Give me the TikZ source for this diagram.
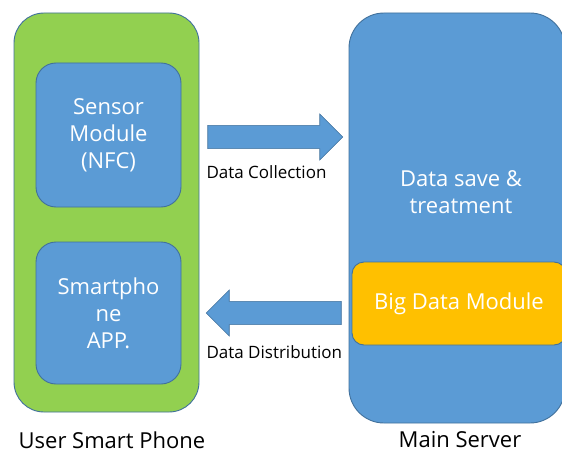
\documentclass[tikz,border=0pt]{standalone}
\usepackage{fontspec}
\setmainfont{Open Sans}
\usetikzlibrary{shapes.arrows}

\definecolor{phonegreen}{HTML}{92D050}
\definecolor{boxblue}{HTML}{5B9BD5}
\definecolor{edgeblue}{HTML}{41719C}
\definecolor{bigorange}{HTML}{FFC000}

\tikzset{
  panel/.style={draw=edgeblue, line width=0.9pt, inner sep=0pt, rounded corners=#1},
  boxtext/.style={text=white, align=center, font=\fontsize{22}{27}\selectfont},
  blockarrow/.style={single arrow, draw=edgeblue, line width=0.6pt, fill=boxblue,
    inner xsep=0pt, inner ysep=11pt, minimum width=46pt, minimum height=135pt,
    single arrow head extend=11pt, single arrow tip angle=90},
  lbl/.style={font=\fontsize{17}{20}\selectfont},
  title/.style={font=\fontsize{22}{26}\selectfont}
}

\begin{document}
\begin{tikzpicture}[x=1pt, y=-1pt]
    \fill[white] (0,0) rectangle (562,452);
    \useasboundingbox (0,0) rectangle (562,452);

    % Smart phone side
    \node[panel=30pt, fill=phonegreen, minimum width=185pt, minimum height=399pt] (phone) at (106.5,212.5) {};
    \node[panel=20pt, fill=boxblue, boxtext, minimum width=145pt, minimum height=144pt] (sensor) at (108.5,135) {Sensor\\Module\\(NFC)};
    \node[panel=20pt, fill=boxblue, boxtext, minimum width=145pt, minimum height=142pt] (app) at (108.5,313) {Smartpho\\ne\\APP.};

    % Server side
    \node[panel=35pt, fill=boxblue, minimum width=216pt, minimum height=410pt] (server) at (457,218) {};
    \node[boxtext] (save) at (461,192) {Data save \&\\treatment};
    \node[panel=12pt, fill=bigorange, boxtext, minimum width=214pt, minimum height=83pt] (bigdata) at (459,303.5) {Big Data Module};

    % Arrows between the two
    \node[blockarrow, anchor=tail] (collect) at ([xshift=8pt]phone.east |- 0,137) {};
    \node[blockarrow, shape border rotate=180, anchor=tail] (distribute) at ([xshift=-7pt]server.west |- 0,313) {};
    \node[lbl, anchor=west] (collectlbl) at (203,172) {Data Collection};
    \node[lbl, anchor=west] (distributelbl) at (203,352) {Data Distribution};

    % Captions
    \node[title] (phonetitle) at (112,440) {User Smart Phone};
    \node[title] (servertitle) at (460,440) {Main Server};
\end{tikzpicture}
\end{document}
